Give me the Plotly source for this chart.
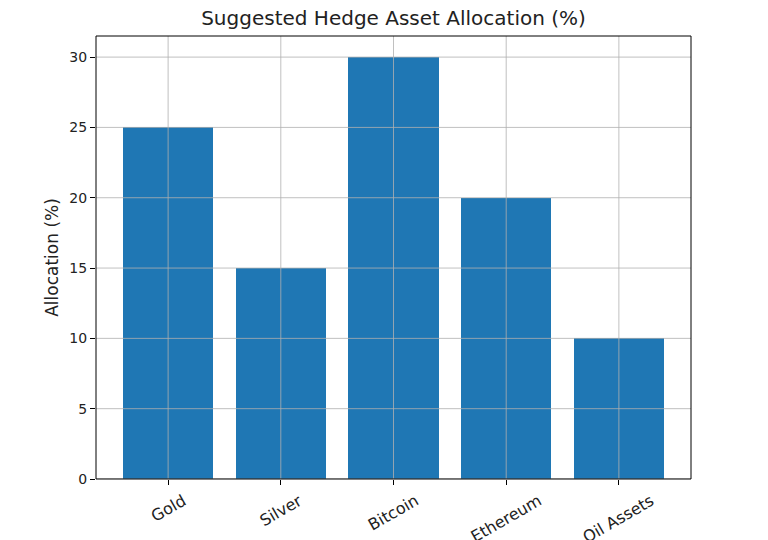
import plotly.graph_objects as go

categories = ["Gold", "Silver", "Bitcoin", "Ethereum", "Oil Assets"]
allocations = [25, 15, 30, 20, 10]
y_ticks = [0, 5, 10, 15, 20, 25, 30]

FONT = "DejaVu Sans"
BAR = "#1f77b4"
GRID = "#b0b0b0"

xpos = list(range(len(categories)))
ymax = max(allocations) * 1.05

fig = go.Figure()
fig.add_trace(go.Bar(x=xpos, y=allocations, width=0.8, marker=dict(color=BAR, line=dict(width=0)),
                     showlegend=False))

shapes = []
for yv in y_ticks:
    shapes.append(dict(type="line", xref="paper", yref="y", x0=0, x1=1, y0=yv, y1=yv,
                       line=dict(color=GRID, width=0.8), layer="above"))
for xv in xpos:
    shapes.append(dict(type="line", xref="x", yref="paper", x0=xv, x1=xv, y0=0, y1=1,
                       line=dict(color=GRID, width=0.8), layer="above"))
# frame
shapes.append(dict(type="rect", xref="paper", yref="paper", x0=0, x1=1, y0=0, y1=1,
                   line=dict(color="black", width=1), layer="above"))

annotations = []
for xv, c in zip(xpos, categories):
    annotations.append(dict(x=xv, y=0, xref="x", yref="paper", text=c, showarrow=False,
                            textangle=-30, xanchor="center", yanchor="top", yshift=-9,
                            font=dict(family=FONT, size=16, color="#222")))

W, H = 760, 532
fig.update_layout(
    width=W, height=H,
    margin=dict(l=88, r=77, t=28, b=61),
    paper_bgcolor="white", plot_bgcolor="white",
    font=dict(family=FONT, size=14, color="#222"),
    title=dict(text="Suggested Hedge Asset Allocation (%)", x=(88 + W - 77) / 2 / W, xanchor="center",
               y=1 - 10 / H, yanchor="middle", font=dict(family=FONT, size=20, color="#222")),
    xaxis=dict(range=[-0.64, len(categories) - 1 + 0.64], tickvals=xpos, showticklabels=False,
               ticks="outside", ticklen=5, tickcolor="black", showgrid=False, zeroline=False,
               showline=False),
    yaxis=dict(range=[0, ymax], tickvals=y_ticks, ticks="outside", ticklen=5, tickcolor="black",
               showgrid=False, zeroline=False, showline=False,
               title=dict(text="Allocation (%)", font=dict(family=FONT, size=17, color="#222"), standoff=6),
               tickfont=dict(family=FONT, size=14, color="#222")),
    shapes=shapes,
    annotations=annotations,
    bargap=0,
)

fig.write_html("out.html")
